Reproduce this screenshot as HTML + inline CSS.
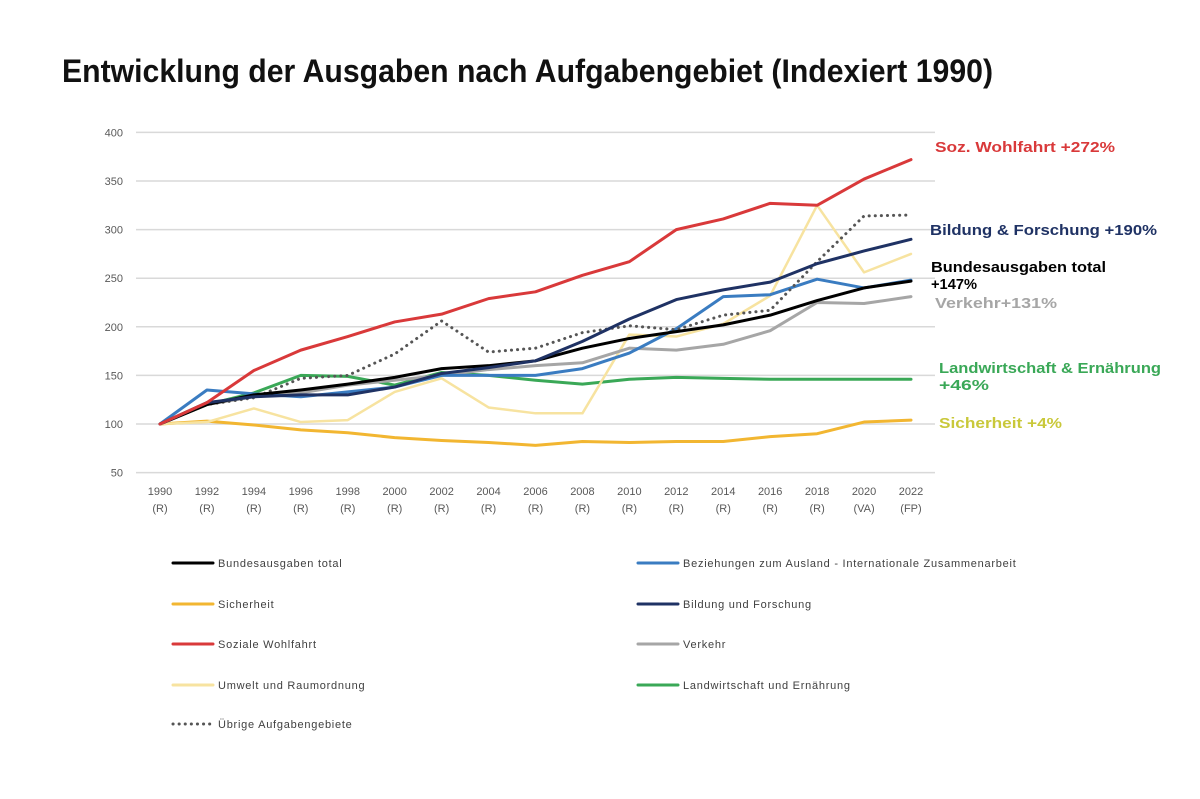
<!DOCTYPE html>
<html><head><meta charset="utf-8"><style>
body{margin:0;background:#fff;}
svg{display:block;font-family:"Liberation Sans",sans-serif;}
</style></head><body>
<svg id="c" width="1200" height="799" viewBox="0 0 1200 799">
<text x="62" y="82" font-size="32" font-weight="bold" textLength="931" lengthAdjust="spacingAndGlyphs" fill="#111">Entwicklung der Ausgaben nach Aufgabengebiet (Indexiert 1990)</text>
<g id="grid"></g><g id="xl"></g><g id="lines"></g><g id="legend"></g>
<g font-weight="bold" font-size="15">
<text x="935" y="152" fill="#d9393a" textLength="180" lengthAdjust="spacingAndGlyphs">Soz. Wohlfahrt +272%</text>
<text x="930" y="235" fill="#1f3264" textLength="227" lengthAdjust="spacingAndGlyphs">Bildung &amp; Forschung +190%</text>
<text x="931" y="272" fill="#000" textLength="175" lengthAdjust="spacingAndGlyphs">Bundesausgaben total</text>
<text x="931" y="289" fill="#000" textLength="46" lengthAdjust="spacingAndGlyphs">+147%</text>
<text x="935" y="308" fill="#a6a6a6" textLength="122" lengthAdjust="spacingAndGlyphs">Verkehr+131%</text>
<text x="939" y="373" fill="#3aa857" textLength="222" lengthAdjust="spacingAndGlyphs">Landwirtschaft &amp; Ernährung</text>
<text x="939" y="390" fill="#3aa857" textLength="50" lengthAdjust="spacingAndGlyphs">+46%</text>
<text x="939" y="428" fill="#c9c83a" textLength="123" lengthAdjust="spacingAndGlyphs">Sicherheit +4%</text>
</g>
</svg>
<script>
const years=["1990","1992","1994","1996","1998","2000","2002","2004","2006","2008","2010","2012","2014","2016","2018","2020","2022"];
const sub=["(R)","(R)","(R)","(R)","(R)","(R)","(R)","(R)","(R)","(R)","(R)","(R)","(R)","(R)","(R)","(VA)","(FP)"];
const yTicks=[50,100,150,200,250,300,350,400];
const total=[100,120,130,135,141,148,157,160,165,178,188,195,202,212,227,240,247];
const ausland=[100,135,131,128,133,138,150,150,150,157,173,198,231,233,249,240,248];
const sicherheit=[100,103,99,94,91,86,83,81,78,82,81,82,82,87,90,102,104];
const bildung=[100,122,128,130,130,138,152,158,165,185,208,228,238,246,265,278,290];
const soziale=[100,122,155,176,190,205,213,229,236,253,267,300,311,327,325,352,372];
const verkehr=[100,120,128,132,140,145,150,156,160,163,178,176,182,196,225,224,231];
const umwelt=[100,102,116,102,104,133,147,117,111,111,192,190,203,232,325,256,275];
const landwirtschaft=[100,120,132,150,149,140,153,150,145,141,146,148,147,146,146,146,146];
const uebrige=[100,120,127,147,150,172,206,174,178,194,201,197,212,217,267,314,315];
const NS="http://www.w3.org/2000/svg";
const X=i=>160+i*(751/(years.length-1));
const Y=v=>424-(v-100)*0.972;
function mk(t,a,p){const e=document.createElementNS(NS,t);for(const k in a)e.setAttribute(k,a[k]);p.appendChild(e);return e;}
const g=document.getElementById('grid');
yTicks.forEach(v=>{
 const l=mk('line',{x1:136,x2:935,y1:Y(v),y2:Y(v),stroke:'#d9d9d9','stroke-width':1.5},g);
 
 
 const t=mk('text',{x:123,y:Y(v)+4,'font-size':11,fill:'#595959','text-anchor':'end'},g);t.textContent=v;
 
 
});
const xl=document.getElementById('xl');
years.forEach((y,i)=>{
 const t=mk('text',{x:X(i),y:495,'font-size':11,fill:'#595959','text-anchor':'middle'},xl);t.textContent=y;
 
 
 const s=mk('text',{x:X(i),y:512,'font-size':11,fill:'#595959','text-anchor':'middle'},xl);s.textContent=sub[i];
 
 
});
const series=[
 ['landwirtschaft',landwirtschaft,'#3aa857',3,null,'Landwirtschaft und Ernährung'],
 ['sicherheit',sicherheit,'#f2b631',3,null,'Sicherheit'],
 ['umwelt',umwelt,'#f7e3a0',2.5,null,'Umwelt und Raumordnung'],
 ['verkehr',verkehr,'#a6a6a6',3,null,'Verkehr'],
 ['ausland',ausland,'#3a7cc1',3,null,'Beziehungen zum Ausland - Internationale Zusammenarbeit'],
 ['uebrige',uebrige,'#555',3,'0.1 6','Übrige Aufgabengebiete'],
 ['total',total,'#000',3,null,'Bundesausgaben total'],
 ['bildung',bildung,'#1f3264',3,null,'Bildung und Forschung'],
 ['soziale',soziale,'#d9393a',3,null,'Soziale Wohlfahrt']
];
const lg=document.getElementById('lines');
series.forEach(s=>{
 const p=mk('polyline',{points:s[1].map((v,i)=>X(i)+','+Y(v)).join(' '),fill:'none',stroke:s[2],'stroke-width':s[3],'stroke-linejoin':'round','stroke-linecap':'round'},lg);
 if(s[4])p.setAttribute('stroke-dasharray',s[4]);
 
 
});
const leg=[['total',173,563],['ausland',638,563],['sicherheit',173,604],['bildung',638,604],['soziale',173,644],['verkehr',638,644],['umwelt',173,685],['landwirtschaft',638,685],['uebrige',173,724]];
const L=document.getElementById('legend');
leg.forEach(e=>{
 const s=series.find(q=>q[0]===e[0]);
 const gg=mk('g',{},L);
 
 
 const l=mk('line',{x1:e[1],x2:e[1]+40,y1:e[2],y2:e[2],stroke:s[2],'stroke-width':3,'stroke-linecap':'round'},gg);
 if(s[4])l.setAttribute('stroke-dasharray',s[4]);
 const t=mk('text',{x:e[1]+45,y:e[2]+4,'font-size':11,'letter-spacing':0.75,fill:'#404040'},gg);t.textContent=s[5];
});
</script>
</body></html>
